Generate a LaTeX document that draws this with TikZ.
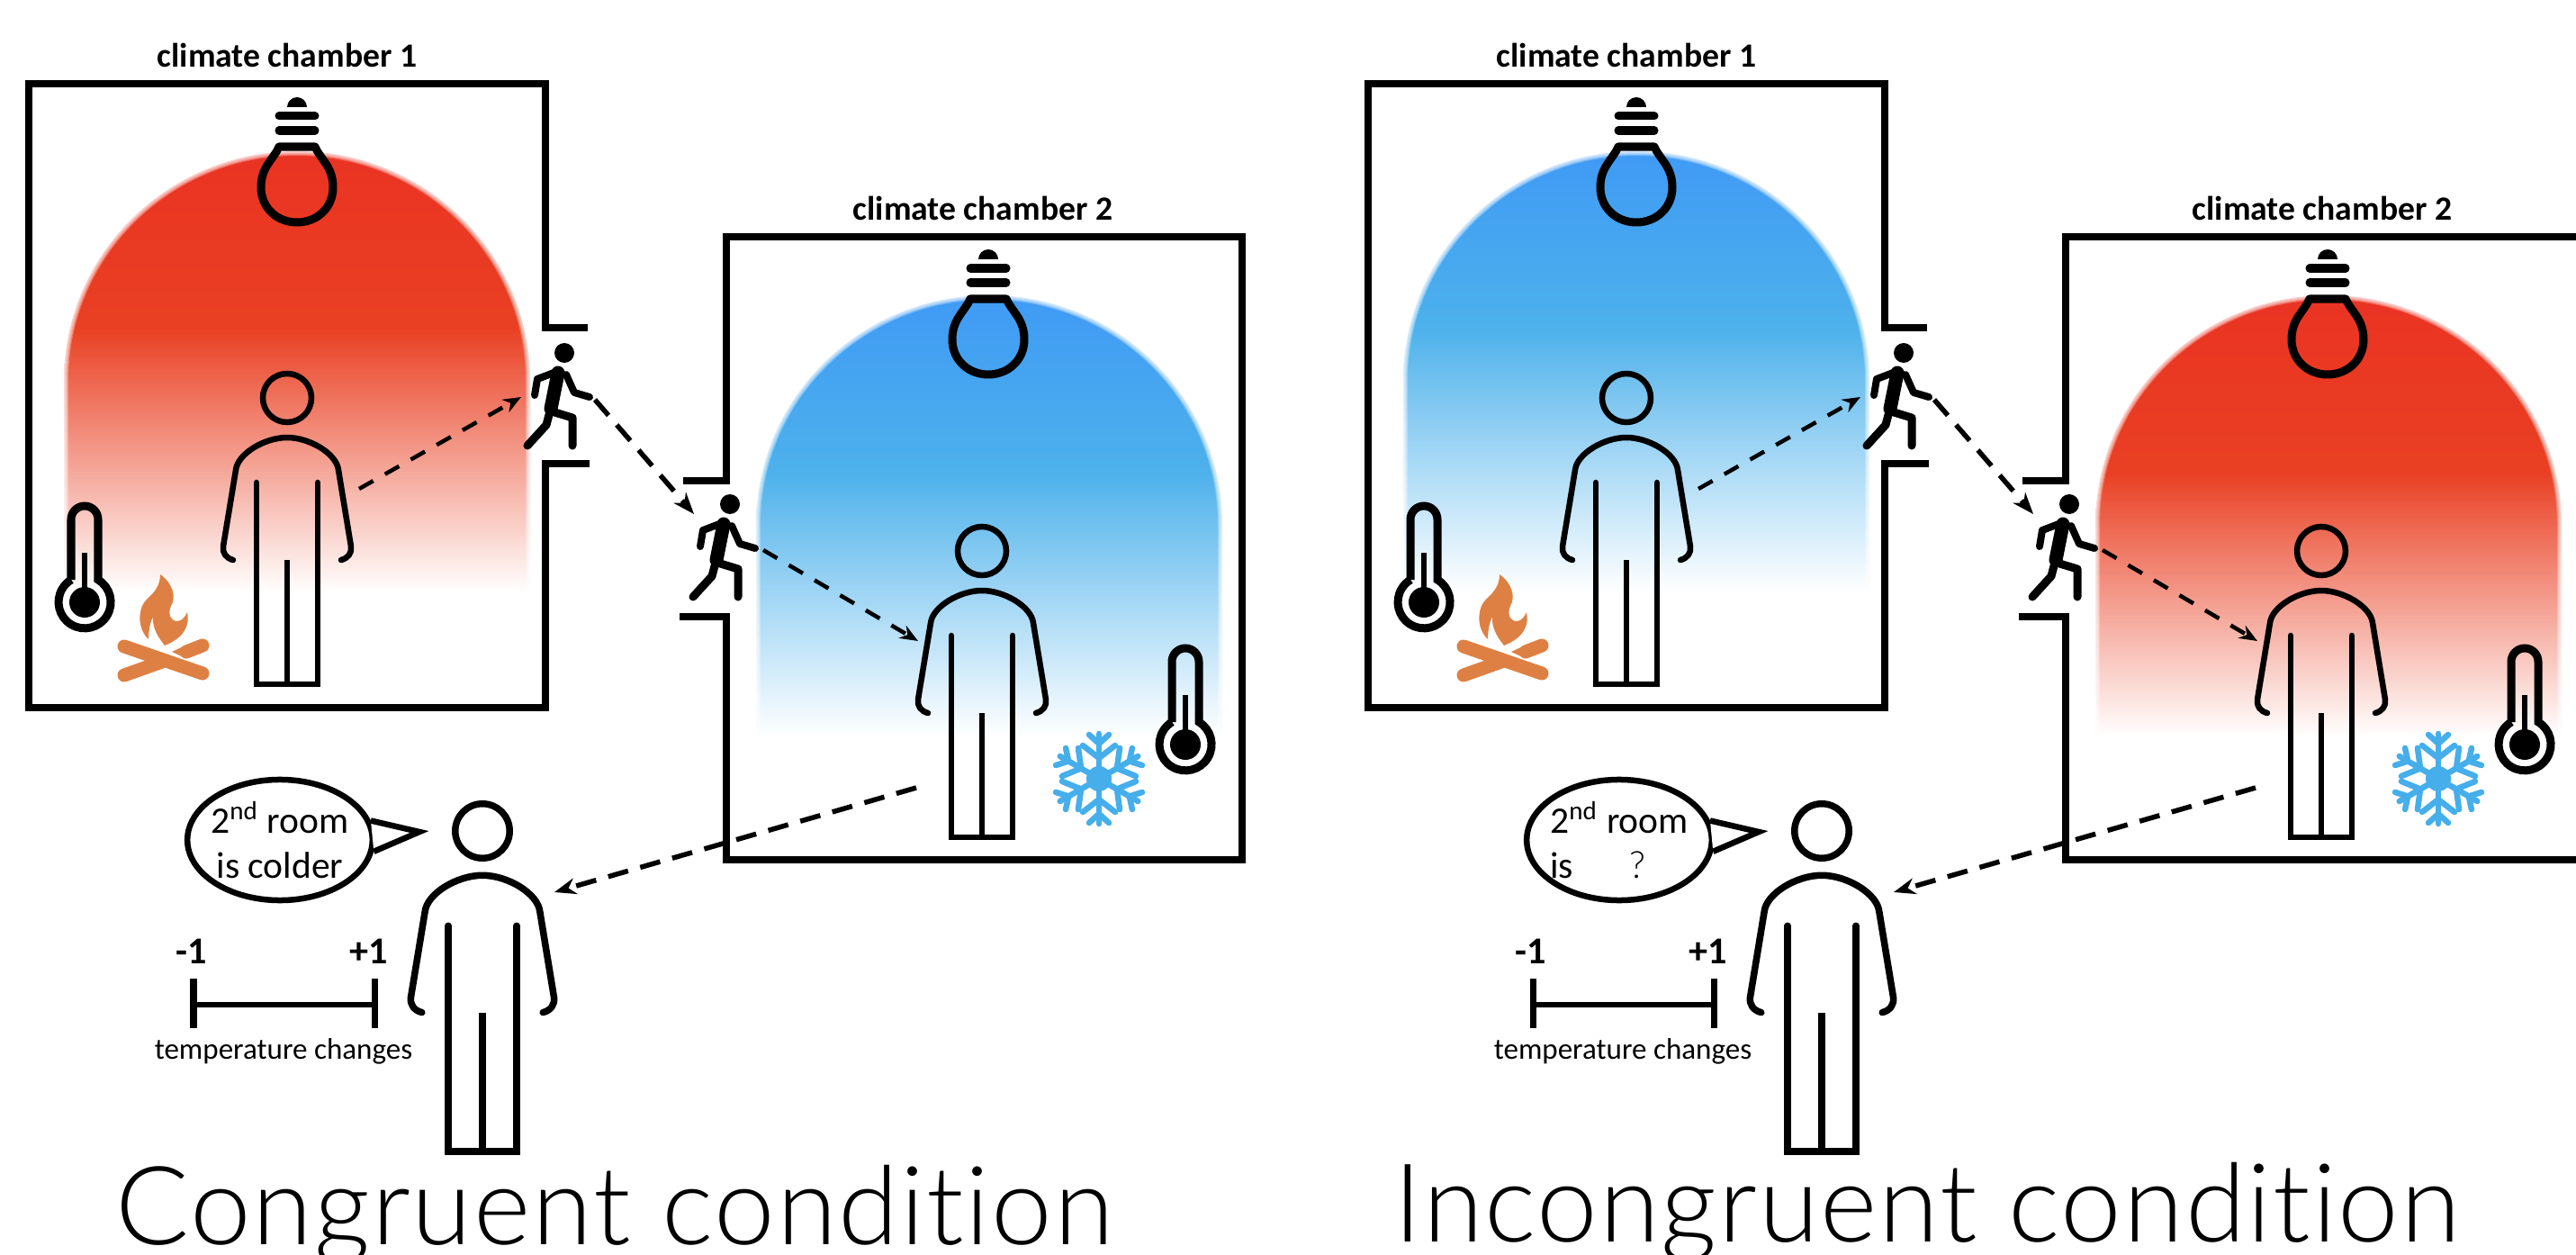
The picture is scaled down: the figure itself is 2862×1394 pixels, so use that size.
\documentclass[tikz,border=0pt]{standalone}
\usepackage{fontspec}
\setmainfont{Carlito}
\newfontfamily\capfont[UprightFont=* Light, LetterSpace=1.5, Ligatures=NoCommon]{Lato}
\usepackage{tikz}
\usetikzlibrary{shapes,shapes.geometric,arrows.meta,positioning,calc}
\usepackage{xcolor}
\definecolor{heatred}{RGB}{234,51,35}
\definecolor{heatorange}{RGB}{233,64,35}
\definecolor{coldblue}{RGB}{63,154,245}
\definecolor{coldsky}{RGB}{77,177,235}
\definecolor{fireorange}{RGB}{222,128,68}
\definecolor{flakeblue}{RGB}{69,174,235}
\pgfdeclareverticalshading{redheat}{100bp}{color(0bp)=(white); color(25bp)=(white); color(55bp)=(heatorange); color(75bp)=(heatred); color(100bp)=(heatred)}
\pgfdeclareverticalshading{blueheat}{100bp}{color(0bp)=(white); color(25bp)=(white); color(55bp)=(coldsky); color(75bp)=(coldblue); color(100bp)=(coldblue)}
\newcommand{\heatdome}[3]{%
    \shade[shading=#1, shift={(#2,#3)}] (-259,-490) -- (-259,-255) arc[start angle=180, end angle=0, x radius=259, y radius=255] -- (259,-490) -- cycle;
    \foreach \w in {0.10,0.08,0.06,0.04,0.02} {
        \draw[white, opacity=0.25, line width=\w cm, shift={(#2,#3)}] (-259,-490) -- (-259,-255) arc[start angle=180, end angle=0, x radius=259, y radius=255] -- (259,-490);
    }
}
\tikzset{
    person/.pic={
        \draw (0,0) circle (27);
        \draw[line cap=round, line join=round] (-60,-180) .. controls (-68,-178) and (-72,-172) .. (-71,-165) -- (-57,-80)
            .. controls (-55,-62) and (-25,-44) .. (0,-44) .. controls (25,-44) and (55,-62) .. (57,-80)
            -- (71,-165) .. controls (72,-172) and (68,-178) .. (60,-180);
        \draw[line cap=round] (-34,-94) -- (-34,-318) -- (34,-318) -- (34,-94);
        \draw (0,-180) -- (0,-318);
    },
    bulb/.pic={
        \fill (-11,44) arc[start angle=180, end angle=0, radius=11] -- cycle;
        \draw[line width=0.09cm, line cap=round] (-20,34) -- (20,34);
        \draw[line width=0.09cm, line cap=round] (-20,18) -- (20,18);
        \draw[line width=0.09cm, line join=round] (-20,0) -- (20,0) .. controls (26,-14) and (40,-22) .. (40,-45)
            .. controls (40,-68) and (22,-84) .. (0,-84) .. controls (-22,-84) and (-40,-68) .. (-40,-45)
            .. controls (-40,-22) and (-26,-14) .. cycle;
    },
    thermo/.pic={
        \draw[line width=0.09cm] (-15,25) -- (-15,92) arc[start angle=180, end angle=0, radius=15] -- (15,25)
            arc[start angle=59, end angle=-239, radius=29];
        \fill (0,0) circle (17);
        \draw[line width=0.06cm] (0,0) -- (0,55);
    },
    walker/.pic={
        \fill (0,0) circle (11);
        \draw[line width=0.15cm, line cap=round] (-7,-22) -- (-15,-62);
        \draw[line width=0.08cm, line cap=round, line join=round] (-9,-21) -- (-30,-29) -- (-33,-47);
        \draw[line width=0.08cm, line cap=round, line join=round] (2,-24) -- (11,-44) -- (28,-49);
        \draw[line width=0.09cm, line cap=round, line join=round] (-16,-65) -- (-20,-80) -- (-41,-103);
        \draw[line width=0.09cm, line cap=round, line join=round] (-14,-65) -- (9,-72) -- (9,-103);
    },
    campfire/.pic={
        \fill[fireorange] (-4,95) .. controls (10,85) and (14,70) .. (8,60) .. controls (4,50) and (8,43) .. (15,43)
            .. controls (20,43) and (24,48) .. (26,53) .. controls (29,40) and (24,25) .. (1,16)
            .. controls (-6,25) and (-13,35) .. (-12,48) .. controls (-16,40) and (-17,30) .. (-17,23)
            .. controls (-25,30) and (-30,45) .. (-24,60) .. controls (-20,70) and (-4,75) .. cycle;
        \draw[fireorange, line width=0.15cm, line cap=round] (-44,15) -- (43,-15);
        \draw[fireorange, line width=0.15cm, line cap=round] (-44,-17) -- (-2,-2);
        \draw[fireorange, line width=0.15cm, line cap=round] (25,9) -- (43,16);
        \fill[fireorange] (9,9) -- (25,16.5) -- (25,1.5) -- cycle;
    },
    flake/.pic={
        \fill[flakeblue] (0,0) circle (14);
        \foreach \a in {0,60,...,300} {
            \begin{scope}[rotate=\a, flakeblue, line width=0.065cm, line cap=round]
                \draw (0,0) -- (0,50);
                \draw (-18,37) -- (0,23) -- (18,37);
                \draw (-11,49) -- (0,39) -- (11,49);
            \end{scope}
        }
    },
    wall/.style={line width=0.085cm, miter limit=10},
    figline/.style={line width=0.065cm},
    arr/.style={-{Stealth[length=0.2cm, width=0.16cm]}, line width=0.045cm, dash pattern=on 0.18cm off 0.15cm},
    arrbig/.style={-{Stealth[length=0.24cm, width=0.18cm]}, line width=0.055cm, dash pattern=on 0.23cm off 0.14cm},
    chamber/.style={font=\bfseries\fontsize{10.7}{12}\selectfont, inner sep=0pt},
    scalenum/.style={font=\bfseries\fontsize{12}{14}\selectfont, inner sep=0pt},
    scalename/.style={font=\fontsize{9.4}{11}\selectfont, inner sep=0pt},
    bubble/.style={ellipse, draw, fill=white, line width=0.065cm, minimum height=1.34cm, inner ysep=0pt, inner xsep=-0.04cm,
                   font=\fontsize{11.8}{14}\selectfont},
    caption/.style={font=\capfont\fontsize{34.5}{36}\selectfont, anchor=base, inner sep=0pt}
}
\begin{document}
\begin{tikzpicture}[x=0.01cm, y=0.01cm]
    \useasboundingbox (0,0) rectangle (2862,-1394);

    \foreach \panel/\shiftx/\domeone/\dometwo in {L/0/redheat/blueheat, R/1488/blueheat/redheat} {
    \begin{scope}[shift={(\shiftx,0)}, name prefix=\panel-]
        \heatdome{\domeone}{330}{-168}
        \heatdome{\dometwo}{1099}{-328}

        \draw[wall] (653,-364) -- (606,-364) -- (606,-93) -- (32,-93) -- (32,-786) -- (606,-786) -- (606,-515) -- (655,-515);
        \draw[wall] (759,-534) -- (807,-534) -- (807,-263) -- (1380,-263) -- (1380,-955) -- (807,-955) -- (807,-685) -- (755,-685);

        \node[chamber] (titleone) at (319,-61)  {climate chamber 1};
        \node[chamber] (titletwo) at (1092,-231) {climate chamber 2};

        \pic at (330,-163) {bulb};
        \pic at (1098,-332) {bulb};
        \pic[figline] at (319,-442) {person};
        \pic[figline] at (1091,-612) {person};
        \pic[line width=0.075cm, scale=1.12] at (536,-923) {person};
        \pic at (94,-669) {thermo};
        \pic at (1317,-827) {thermo};
        \pic at (627,-392) {walker};
        \pic at (811,-560) {walker};
        \pic at (182,-733) {campfire};
        \pic at (1221,-865) {flake};

        \coordinate (personone)  at (399,-543);
        \coordinate (walkone)    at (579,-441);
        \coordinate (walkoneout) at (661,-444);
        \coordinate (walktwo)    at (771,-571);
        \coordinate (walktwoout) at (848,-611);
        \coordinate (persontwo)  at (1020,-712);
        \coordinate (persontwoout) at (1018,-875);
        \coordinate (personthree)  at (616,-991);

        \draw[arr]    (personone)    -- (walkone);
        \draw[arrbig] (walkoneout)   -- (walktwo);
        \draw[arr]    (walktwoout)   -- (persontwo);
        \draw[arrbig] (persontwoout) -- (personthree);

        \draw[line width=0.07cm] (215,-1087) -- (215,-1142);
        \draw[line width=0.07cm] (416,-1087) -- (416,-1142);
        \draw[line width=0.065cm] (215,-1116) -- (416,-1116);
        \node[scalenum]  (low)  at (213,-1057) {-1};
        \node[scalenum]  (high) at (410,-1057) {+1};
        \node[scalename] (changes) at (315,-1168) {temperature changes};
    \end{scope}
    }

    \node[bubble, align=center] (sayL) at (311,-933) {2\textsuperscript{nd} room\\is colder};
    \coordinate (tipL) at (466,-924);
    \draw[fill=white, line width=0.065cm, line join=miter] (sayL.12) -- (tipL) -- (sayL.-7);

    \node[bubble, align=left] (sayR) at (1799,-933) {2\textsuperscript{nd} room\\is\hspace{0.62cm}{\capfont ?}};
    \coordinate (tipR) at (1954,-924);
    \draw[fill=white, line width=0.065cm, line join=miter] (sayR.12) -- (tipR) -- (sayR.-7);

    \node[caption] (capL) at (683,-1382)  {Congruent condition};
    \node[caption] (capR) at (2141,-1379) {Incongruent condition};
\end{tikzpicture}
\end{document}
